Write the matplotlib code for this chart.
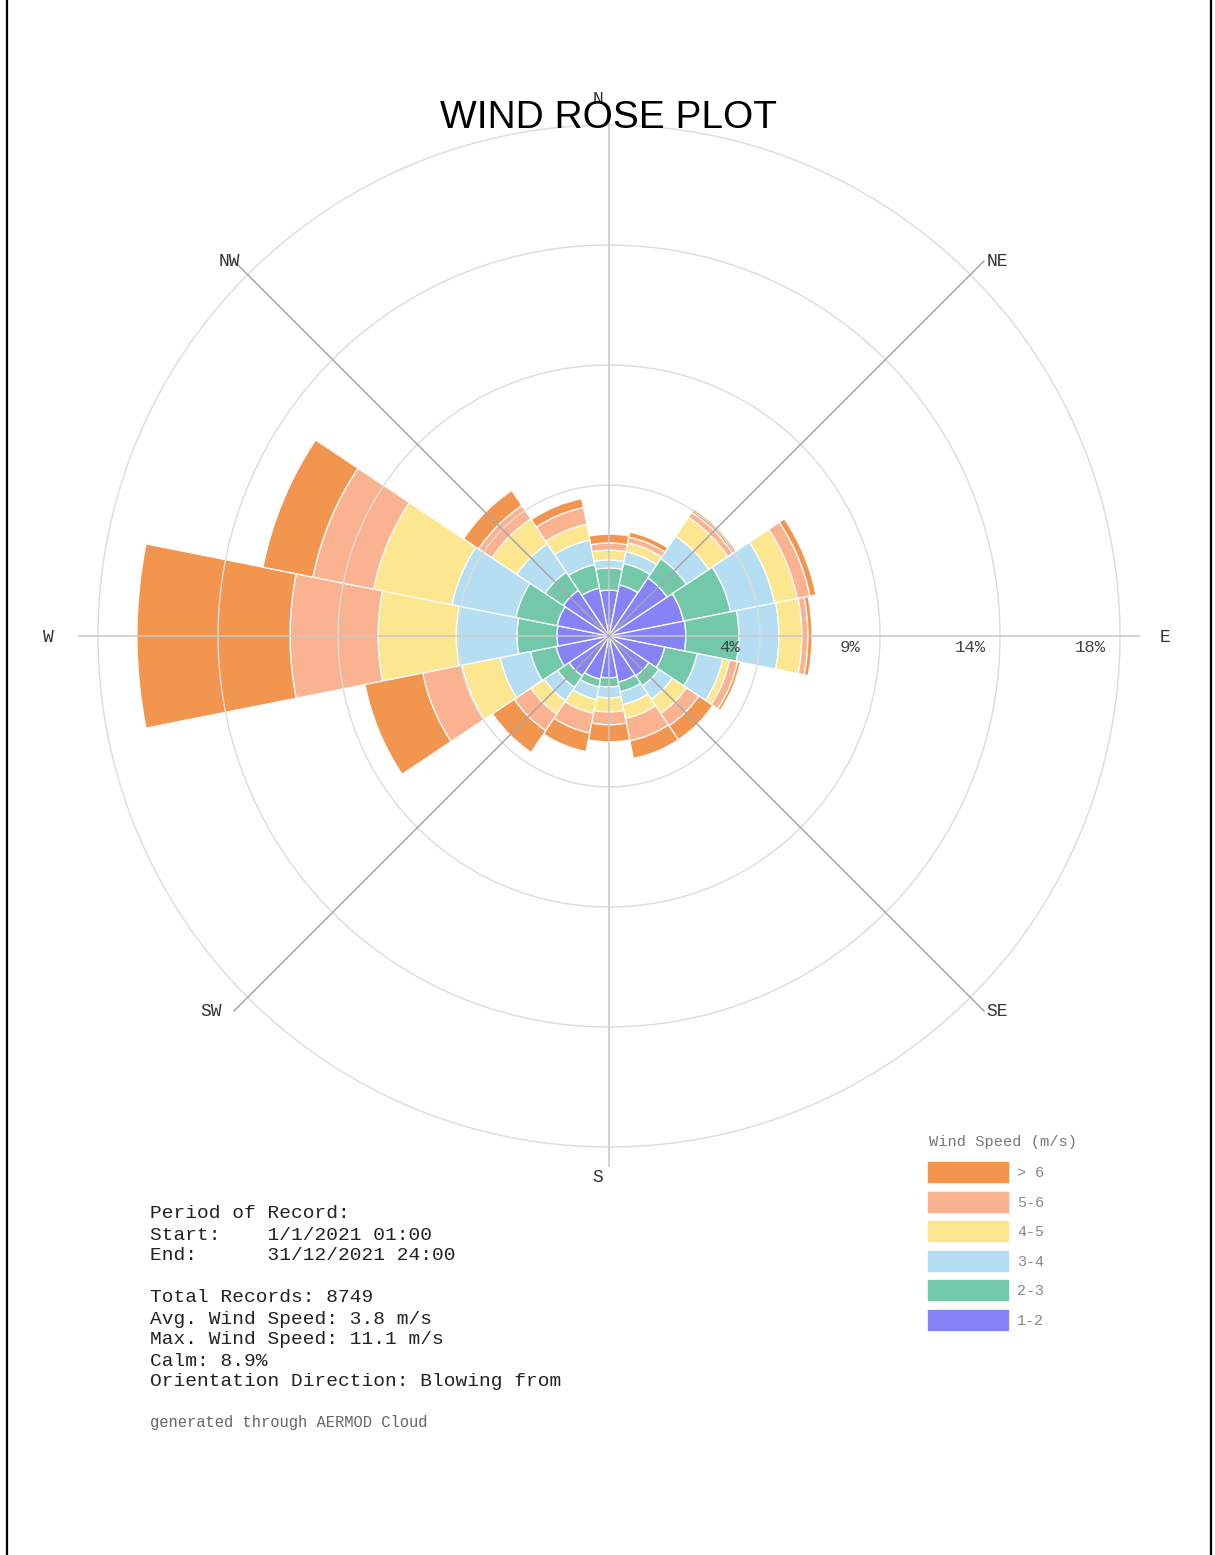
import numpy as np
import matplotlib.pyplot as plt
from matplotlib.patches import Rectangle
from matplotlib.lines import Line2D

# wind directions (blowing from) and speed classes
directions = ['N', 'NNE', 'NE', 'ENE', 'E', 'ESE', 'SE', 'SSE',
              'S', 'SSW', 'SW', 'WSW', 'W', 'WNW', 'NW', 'NNW']
speed_bins = ['1-2', '2-3', '3-4', '4-5', '5-6', '> 6']
colors = ['#8683F6', '#73C8A9', '#B5DEF3', '#FCE690', '#FBB291', '#F2954F']

# frequency (%) per direction, one list per speed class
freq_1_2 = [0.56, 0.79, 1.46, 1.69, 1.72, 0.97, 0.64, 0.60, 0.41, 0.49, 0.64, 0.86, 0.79, 0.82, 0.90, 0.67]
freq_2_3 = [0.83, 0.82, 0.87, 1.80, 1.99, 1.24, 0.45, 0.37, 0.34, 0.30, 0.52, 0.98, 1.50, 1.58, 0.82, 0.90]
freq_3_4 = [0.30, 0.45, 1.01, 1.68, 1.50, 0.98, 0.60, 0.49, 0.41, 0.48, 0.60, 1.16, 2.28, 2.44, 1.28, 0.94]
freq_4_5 = [0.37, 0.34, 0.86, 0.87, 0.86, 0.26, 0.64, 0.53, 0.53, 0.53, 0.60, 1.46, 2.93, 3.00, 1.12, 0.60]
freq_5_6 = [0.27, 0.22, 0.22, 0.48, 0.23, 0.30, 0.56, 0.86, 0.48, 0.75, 0.75, 1.50, 3.30, 2.32, 0.60, 0.64]
freq_gt6 = [0.33, 0.19, 0.15, 0.23, 0.15, 0.11, 0.63, 0.67, 0.64, 0.71, 0.98, 2.21, 5.74, 1.91, 0.68, 0.34]
series = [freq_1_2, freq_2_3, freq_3_4, freq_4_5, freq_5_6, freq_gt6]

r_ticks = [4.5, 9, 13.5, 18]
r_min, r_max = -1.16, 18.75

info_lines = ['Period of Record:',
              'Start:    1/1/2021 01:00',
              'End:      31/12/2021 24:00',
              '',
              'Total Records: 8749',
              'Avg. Wind Speed: 3.8 m/s',
              'Max. Wind Speed: 11.1 m/s',
              'Calm: 8.9%',
              'Orientation Direction: Blowing from']

W, H = 1215, 1555
def fx(x):
    return x / W
def fy(y):
    return 1 - y / H

mono = 'Liberation Mono'
fig = plt.figure(figsize=(W / 100, H / 100), dpi=100)

# page frame
fig.add_artist(Line2D([fx(7), fx(7)], [0, 1], color='black', lw=1.6))
fig.add_artist(Line2D([fx(1211), fx(1211)], [0, 1], color='black', lw=1.6))

ax = fig.add_axes([fx(78), fy(636 + 531), (2 * 531) / W, (2 * 531) / H], projection='polar')
ax.set_theta_zero_location('N')
ax.set_theta_direction(-1)
ax.set_facecolor('none')
ax.grid(False)
ax.spines['polar'].set_visible(False)
ax.set_xticks([])
ax.set_yticks([])
ax.set_ylim(r_min, r_max)

theta = np.deg2rad(np.arange(len(directions)) * 22.5)
width = np.deg2rad(22.5)
base = np.zeros(len(directions))
for i, (vals, c) in enumerate(zip(series, colors)):
    vals = np.array(vals)
    bottom = base if i else np.full(len(directions), r_min)
    ax.bar(theta, base + vals - bottom, width=width, bottom=bottom,
           color=c, edgecolor='white', linewidth=0.9, zorder=2)
    base = base + vals

# rings and spokes on top of the bars
circ = np.linspace(0, 2 * np.pi, 500)
for r in r_ticks:
    ax.plot(circ, np.full_like(circ, r), color='#dcdcdc', lw=1.0, zorder=3)
for k in range(8):
    a = np.deg2rad(k * 45)
    col = '#c8c8c8' if k % 2 == 0 else '#a8a8a8'
    ax.plot([a, a], [r_min, r_max], color=col, lw=1.1, zorder=4)

for r in r_ticks:
    ax.annotate(f'{round(r)}%', xy=(np.pi / 2, r), xytext=(-30, -11),
                textcoords='offset pixels', ha='center', va='center',
                fontsize=12.5, family=mono, color='#444444', zorder=5)

# compass labels
compass = {'N': (598, 100), 'NE': (997, 261), 'E': (1165, 637), 'SE': (997, 1012),
           'S': (598, 1178), 'SW': (211, 1012), 'W': (48, 637), 'NW': (229, 261)}
for lab, (x, y) in compass.items():
    fig.text(fx(x), fy(y), lab, ha='center', va='center', fontsize=13,
             family=mono, color='#333333')

fig.text(fx(609), fy(118), 'WIND ROSE PLOT', ha='center', va='center',
         fontsize=28, family='Liberation Sans', color='black')

# legend
fig.text(fx(929), fy(1142), 'Wind Speed (m/s)', ha='left', va='center',
         fontsize=11.1, family=mono, color='#777777')
for j, (lab, c) in enumerate(zip(speed_bins[::-1], colors[::-1])):
    yc = 1172 + j * 29.6
    fig.add_artist(Rectangle((fx(928), fy(yc + 10)), 80 / W, 20 / H,
                             transform=fig.transFigure, color=c))
    fig.text(fx(1017), fy(yc + 1), lab, ha='left', va='center',
             fontsize=10.8, family=mono, color='#888888')

# record info
y0 = 1214
for k, line in enumerate(info_lines):
    if line:
        fig.text(fx(150), fy(y0 + k * 21), line, ha='left', va='center',
                 fontsize=14, family=mono, color='#222222')
fig.text(fx(150), fy(1422), 'generated through AERMOD Cloud', ha='left',
         va='center', fontsize=11.2, family=mono, color='#666666')

fig.savefig('out.png', dpi=100, facecolor='white')
